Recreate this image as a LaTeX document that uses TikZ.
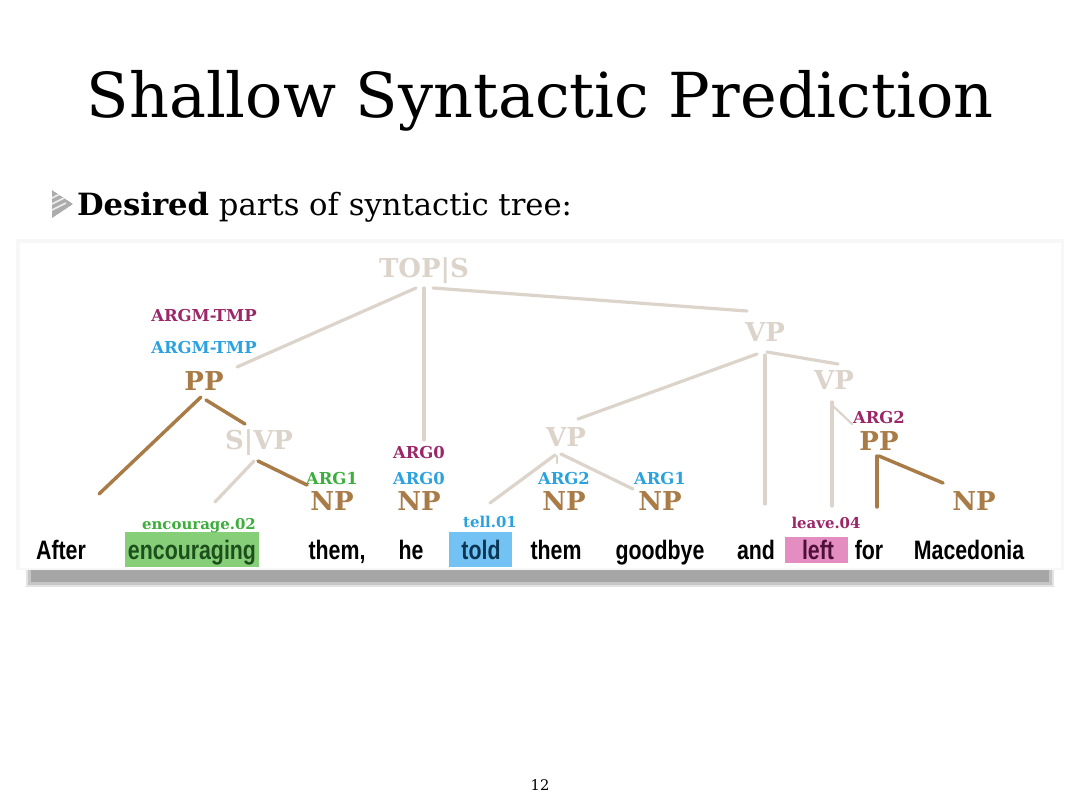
\documentclass[tikz,border=0pt]{standalone}
\usepackage{fontspec}
\setmainfont{DejaVu Serif}
\newfontfamily\wordfont{Liberation Sans}[FakeStretch=0.8]
\usetikzlibrary{calc}
\definecolor{ngray}{HTML}{DCD4CA}
\definecolor{nbrown}{HTML}{A87B47}
\definecolor{apurple}{HTML}{9B2668}
\definecolor{ablue}{HTML}{2AA2E0}
\definecolor{agreen}{HTML}{3CAE3C}
\definecolor{hgreen}{HTML}{86CF78}
\definecolor{hblue}{HTML}{72C2F4}
\definecolor{hpink}{HTML}{E48DC0}
\definecolor{tgreen}{HTML}{1C4F1C}
\definecolor{tblue}{HTML}{0B3553}
\definecolor{tpink}{HTML}{4E1038}
\begin{document}
\begin{tikzpicture}[x=0.75pt,y=-0.75pt,
  every node/.style={inner sep=0pt, outer sep=0pt},
  big/.style={font=\fontsize{19.5pt}{20pt}\selectfont\bfseries, text height=14.2pt, text depth=0pt},
  graylab/.style={big, text=ngray},
  brownlab/.style={big, text=nbrown},
  arglab/.style={font=\fontsize{12.3pt}{13pt}\selectfont\bfseries, text height=9pt, text depth=0pt},
  senselab/.style={font=\fontsize{11.2pt}{12pt}\selectfont\bfseries, text height=8pt, text depth=0pt},
  word/.style={font=\wordfont\fontsize{20pt}{21pt}\selectfont\bfseries, text=black, text height=14.3pt, text depth=0pt},
  gline/.style={draw=ngray, line width=2.4pt, line cap=round},
  bline/.style={draw=nbrown, line width=2.6pt, line cap=round}
]
\useasboundingbox (0,0) rectangle (1080,810);
\fill[white] (0,0) rectangle (1080,810);

% title
\node[anchor=base, font=\fontsize{46.5pt}{48pt}\selectfont] (title) at (540,117) {Shallow Syntactic Prediction};

% bullet
\begin{scope}
\clip (52,190) -- (73,204) -- (52,218) -- cycle;
\fill[gray!65] (52,190) -- (73,204) -- (52,218) -- cycle;
\foreach \d in {0,6,12} {
  \draw[white!85!gray, line width=1.3pt] (50,{199+\d}) -- (66,{191+\d});
}
\end{scope}
\node[anchor=base west, font=\fontsize{23pt}{24pt}\selectfont] (sub) at (77,215) {\textbf{Desired} parts of syntactic tree:};

% card with shadow
\fill[gray!22] (26,566) rectangle (1054,587);
\fill[gray!45] (28,568) rectangle (1052,585);
\fill[gray!70] (31,570) rectangle (1049,582);
\fill[black!3] (16,239) rectangle (1064,570);
\fill[white] (20,243) rectangle (1061,568);

% highlight boxes
\fill[hgreen] (125,532) rectangle (259,567);
\fill[hblue] (449,532) rectangle (512,567);
\fill[hpink] (785,537) rectangle (848,563);

% tree labels
\node[graylab] (tops) at (424,268) {TOP|S};
\node[graylab] (vp1) at (765,332) {VP};
\node[graylab] (vp2) at (834,380) {VP};
\node[graylab] (vp3) at (566,437) {VP};
\node[graylab] (svp) at (259,440) {S|VP};
\node[brownlab] (ppl) at (204,381) {PP};
\node[arglab, text=apurple] (argmP) at (204,315) {ARGM-TMP};
\node[arglab, text=ablue] (argmB) at (204,347) {ARGM-TMP};
\node[brownlab] (npthem) at (332,501) {NP};
\node[arglab, text=agreen] (arg1g) at (332,478) {ARG1};
\node[brownlab] (nphe) at (419,501) {NP};
\node[arglab, text=ablue] (arg0b) at (419,478) {ARG0};
\node[arglab, text=apurple] (arg0p) at (419,452) {ARG0};
\node[brownlab] (nparg2) at (564,501) {NP};
\node[arglab, text=ablue] (arg2b) at (564,478) {ARG2};
\node[brownlab] (npgood) at (660,501) {NP};
\node[arglab, text=ablue] (arg1b) at (660,478) {ARG1};
\node[brownlab] (ppr) at (879,441) {PP};
\node[arglab, text=apurple] (arg2p) at (879,417) {ARG2};
\node[brownlab] (npmac) at (974,501) {NP};

% sense labels
\node[senselab, text=agreen] (enc) at (199,524) {encourage.02};
\node[senselab, text=ablue] (tell) at (490,522) {tell.01};
\node[senselab, text=apurple] (leave) at (826,523) {leave.04};

% words
\node[word] (after) at (61,550) {After};
\node[word, text=tgreen] (encouraging) at (192,550) {encouraging};
\node[word] (themc) at (337,550) {them,};
\node[word] (he) at (411,550) {he};
\node[word, text=tblue] (told) at (481,550) {told};
\node[word] (them) at (556,550) {them};
\node[word] (goodbye) at (660,550) {goodbye};
\node[word] (and) at (756,550) {and};
\node[word, text=tpink] (left) at (818,550) {left};
\node[word] (for) at (869,550) {for};
\node[word] (macedonia) at (969,550) {Macedonia};

% gray connectors
\draw[gline] ($(tops)+(-8,20)$) -- ($(ppl)+(33,-14)$);
\draw[gline] ($(tops)+(0,20)$) -- ($(arg0p)+(5,-12)$);
\draw[gline] ($(tops)+(9,20)$) -- ($(vp1)+(-18,-21)$);
\draw[gline] ($(vp1)+(-8,22)$) -- ($(vp3)+(12,-18)$);
\draw[gline] ($(vp1)+(0,23)$) -- ($(and)+(9,-46)$);
\draw[gline] ($(vp1)+(2,20)$) -- ($(vp2)+(4,-16)$);
\draw[gline] ($(vp2)+(-2,22)$) -- ($(left)+(14,-44)$);
\draw[gline, line width=1.6pt] ($(vp2)+(-2,25)$) -- ($(arg2p)+(-27,7)$);
\draw[gline] ($(svp)+(-5,21)$) -- ($(encouraging)+(23,-48)$);
\draw[gline] ($(vp3)+(-11,18)$) -- ($(tell)+(0,-19)$);
\draw[gline, line width=1.6pt] ($(vp3)+(-9,19)$) -- ($(vp3)+(-9,26)$);
\draw[gline] ($(vp3)+(-5,17)$) -- ($(npgood)+(-27,-12)$);

% brown connectors
\draw[bline] ($(ppl)+(-3,16)$) -- ($(after)+(38,-56)$);
\draw[bline] ($(ppl)+(2,19)$) -- ($(svp)+(-14,-16)$);
\draw[bline] ($(svp)+(-1,21)$) -- ($(npthem)+(-25,-16)$);
\draw[bline] ($(ppr)+(-2,15)$) -- ($(for)+(8,-43)$);
\draw[bline] ($(ppr)+(0,15)$) -- ($(npmac)+(-31,-18)$);

% page number
\node[anchor=base, font=\fontsize{11pt}{12pt}\selectfont] (pgnum) at (540,790) {12};
\end{tikzpicture}
\end{document}
